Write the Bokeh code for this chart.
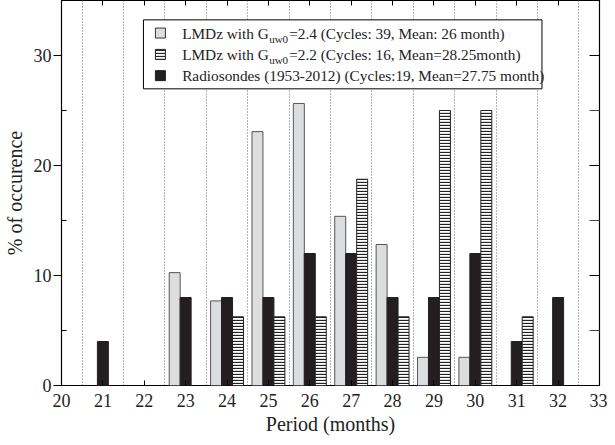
from bokeh.plotting import figure
from bokeh.models import ColumnDataSource, FixedTicker, LinearAxis, Range1d, BoxAnnotation
from bokeh.transform import dodge
from bokeh.core.properties import value
from bokeh.embed import file_html
from bokeh.resources import INLINE

# ---- data ----
lmdz24_period = [23, 24, 25, 26, 27, 28, 29, 30]
lmdz24_pct = [10.26, 7.69, 23.08, 25.64, 15.38, 12.82, 2.56, 2.56]

lmdz22_period = [24, 25, 26, 27, 28, 29, 30, 31]
lmdz22_pct = [6.25, 6.25, 6.25, 18.75, 6.25, 25.0, 25.0, 6.25]

radio_period = [21, 23, 24, 25, 26, 27, 28, 29, 30, 31, 32]
radio_pct = [4, 8, 8, 8, 12, 12, 8, 8, 12, 4, 8]

x_ticks = list(range(20, 34))
y_ticks = [0, 10, 20, 30]

legend_labels = [
    ("LMDz with G", "uw0", "=2.4 (Cycles: 39, Mean: 26 month)"),
    ("LMDz with G", "uw0", "=2.2 (Cycles: 16, Mean=28.25month)"),
    ("Radiosondes (1953-2012) (Cycles:19, Mean=27.75 month)", "", ""),
]

FONT = "Liberation Serif"
W = 0.265

p = figure(width=607, height=437, output_backend="svg", toolbar_location=None,
           x_range=Range1d(20, 33), y_range=Range1d(0, 35),
           min_border_left=55, min_border_right=8, min_border_top=0, min_border_bottom=40)
p.outline_line_color = "black"
p.outline_line_width = 1.2
p.background_fill_color = "white"
p.border_fill_color = "white"

# grid
p.ygrid.visible = False
p.xgrid.ticker = FixedTicker(ticks=[t + 0.5 for t in range(20, 33)])
p.xgrid.grid_line_color = "#666666"
p.xgrid.grid_line_dash = "1 2"
p.xgrid.grid_line_width = 1

# legend box (underlay, drawn after grid but below glyphs)
box = BoxAnnotation(left=21.98, right=31.61, top=33.24, bottom=26.97, level="underlay",
                    fill_color="white", fill_alpha=1.0, line_color="black",
                    line_alpha=1.0, line_width=1)
p.add_layout(box)

# bars
s24 = ColumnDataSource(dict(x=lmdz24_period, top=lmdz24_pct))
s22 = ColumnDataSource(dict(x=lmdz22_period, top=lmdz22_pct))
sr = ColumnDataSource(dict(x=radio_period, top=radio_pct))

p.vbar(x=dodge("x", -W, range=p.x_range), top="top", bottom=0, width=W, source=s24,
       fill_color="#dcdddf", line_color="#555555", line_width=1)
p.vbar(x=dodge("x", 0, range=p.x_range), top="top", bottom=0, width=W, source=sr,
       fill_color="#231f20", line_color="#231f20", line_width=1)
p.vbar(x=dodge("x", W, range=p.x_range), top="top", bottom=0, width=W, source=s22,
       fill_color="white", line_color="#222222", line_width=1,
       hatch_pattern="horizontal_line", hatch_color="#222222", hatch_scale=3, hatch_weight=1.3)

# axes styling
p.xaxis.ticker = FixedTicker(ticks=x_ticks)
p.yaxis.ticker = FixedTicker(ticks=y_ticks, minor_ticks=[5, 15, 25])
for ax in (p.xaxis[0], p.yaxis[0]):
    ax.major_label_text_font = FONT
    ax.major_label_text_font_size = "18px"
    ax.major_label_text_color = "#222222"
    ax.axis_label_text_font = FONT
    ax.axis_label_text_font_size = "20px"
    ax.axis_label_text_font_style = "normal"
    ax.axis_label_text_color = "#222222"
    ax.axis_line_color = None
    ax.major_tick_line_color = "black"
p.xaxis.axis_label = "Period (months)"
p.yaxis.axis_label = "% of occurence"
p.xaxis.major_tick_in = 5
p.xaxis.major_tick_out = 0
p.xaxis.minor_tick_line_color = None
p.xaxis.major_label_standoff = 8
p.xaxis.axis_label_standoff = 3
p.yaxis.major_tick_in = 0
p.yaxis.major_tick_out = 8
p.yaxis.minor_tick_in = 5
p.yaxis.minor_tick_out = 0
p.yaxis.major_label_standoff = 2
p.yaxis.axis_label_standoff = 5

right_ax = LinearAxis(ticker=FixedTicker(ticks=y_ticks, minor_ticks=[5, 15, 25]),
                      major_label_overrides={t: "" for t in y_ticks}, axis_line_color=None,
                      major_tick_in=10, major_tick_out=0, minor_tick_in=10, minor_tick_out=0,
                      minor_tick_line_color="#444444", major_label_standoff=0)
p.add_layout(right_ax, "right")
top_ax = LinearAxis(ticker=FixedTicker(ticks=x_ticks),
                    major_label_overrides={t: "" for t in x_ticks},
                    axis_line_color=None, major_tick_in=5, major_tick_out=0,
                    minor_tick_line_color=None, major_label_standoff=0)
p.add_layout(top_ax, "above")

# legend swatches and texts
row_y = [32.04, 30.10, 28.17]
sw_x = [22.39] * 3
p.scatter(x=sw_x[:1], y=row_y[:1], marker="square", size=10,
          fill_color="#dcdddf", line_color="#333333")
p.scatter(x=sw_x[1:2], y=row_y[1:2], marker="square", size=10, fill_color="white",
          line_color="#222222", hatch_pattern="horizontal_line", hatch_color="#222222",
          hatch_scale=3, hatch_weight=1.3)
p.scatter(x=sw_x[2:], y=row_y[2:], marker="square", size=10,
          fill_color="#231f20", line_color="#231f20")

tx = 22.915
main_w = 85
for i, (a, sub, b) in enumerate(legend_labels):
    p.text(x=[tx], y=[row_y[i]], text=[a], text_font=value(FONT), text_font_size="15.3px",
           text_baseline="middle", text_color="#222222")
    if sub:
        p.text(x=[tx], y=[row_y[i]], text=[sub], text_font=value(FONT), text_font_size="11px",
               text_baseline="middle", text_color="#222222", x_offset=main_w + 2, y_offset=6)
        p.text(x=[tx], y=[row_y[i]], text=[b], text_font=value(FONT), text_font_size="15.3px",
               text_baseline="middle", text_color="#222222", x_offset=main_w + 22)

open("out.html", "w").write(file_html(p, INLINE))
